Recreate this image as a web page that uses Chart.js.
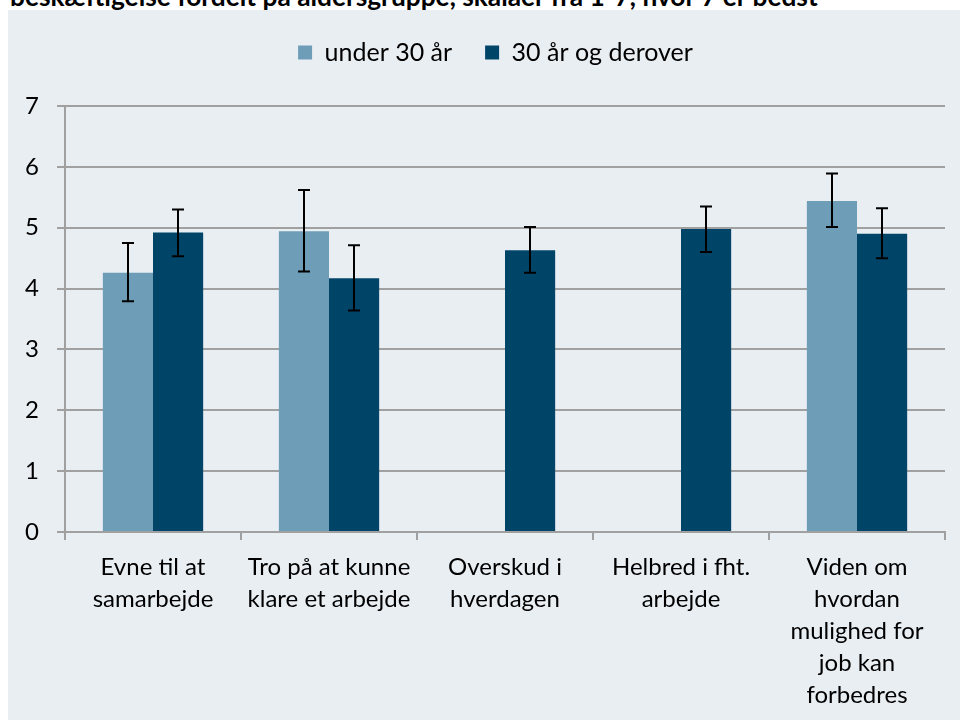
<!DOCTYPE html>
<html>
<head>
<meta charset="utf-8">
<script src="https://cdn.jsdelivr.net/npm/chart.js@4"></script>
<style>
  body { margin: 0; background: #ffffff; width: 960px; height: 720px; overflow: hidden; position: relative; }
  .title {
    position: absolute; left: 10px; top: -20px; white-space: nowrap;
    font-family: Lato, "Open Sans", sans-serif; font-weight: bold; font-size: 26.3px; color: #000;
  }
  .panel { position: absolute; left: 8px; top: 10px; width: 952px; height: 710px; background: #E9EEF3; }
  .panel canvas { display: block; }
</style>
</head>
<body>
<div class="title">beskæftigelse fordelt på aldersgruppe, skalaer fra 1-7, hvor 7 er bedst</div>
<div class="panel"><canvas id="chart" width="952" height="710"></canvas></div>
<script>
const categories = [
  ["Evne til at", "samarbejde"],
  ["Tro på at kunne", "klare et arbejde"],
  ["Overskud i", "hverdagen"],
  ["Helbred i fht.", "arbejde"],
  ["Viden om", "hvordan", "mulighed for", "job kan", "forbedres"]
];
const seriesNames = ["under 30 år", "30 år og derover"];
const under30 = [4.26, 4.94, null, null, 5.44];
const under30Low = [3.79, 4.28, null, null, 5.01];
const under30High = [4.75, 5.62, null, null, 5.89];
const over30 = [4.92, 4.17, 4.63, 4.98, 4.90];
const over30Low = [4.53, 3.64, 4.26, 4.60, 4.50];
const over30High = [5.30, 4.71, 5.01, 5.35, 5.32];
const yTicks = [0, 1, 2, 3, 4, 5, 6, 7];

const FONT = "Lato, 'Open Sans', sans-serif";

// draws the error bars from the low/high arrays
const errorBars = {
  id: "errorBars",
  afterDatasetsDraw(chart) {
    const ctx = chart.ctx;
    const y = chart.scales.y;
    const ranges = [[under30Low, under30High], [over30Low, over30High]];
    ctx.save();
    ctx.strokeStyle = "#000";
    ctx.lineWidth = 2;
    ranges.forEach(([lo, hi], di) => {
      chart.getDatasetMeta(di).data.forEach((bar, i) => {
        if (lo[i] == null) return;
        const x = Math.round(bar.x);
        const y1 = y.getPixelForValue(lo[i]);
        const y2 = y.getPixelForValue(hi[i]);
        ctx.beginPath();
        ctx.moveTo(x, y1); ctx.lineTo(x, y2);
        ctx.moveTo(x - 6, y1); ctx.lineTo(x + 6, y1);
        ctx.moveTo(x - 6, y2); ctx.lineTo(x + 6, y2);
        ctx.stroke();
      });
    });
    ctx.restore();
  }
};

// legend: fixed height, nudged up and to the right like the original
const legendPlace = {
  id: "legendPlace",
  beforeInit(chart) {
    const fit = chart.legend.fit;
    chart.legend.fit = function () {
      fit.bind(chart.legend)();
      this.height = 96;
    };
  },
  afterLayout(chart) {
    const lg = chart.legend;
    lg.top -= 3; lg.bottom -= 3;
    lg.left += 19; lg.right += 19;
  }
};

new Chart(document.getElementById("chart"), {
  type: "bar",
  data: {
    labels: categories,
    datasets: [
      { label: seriesNames[0], data: under30, backgroundColor: "#6E9DB8" },
      { label: seriesNames[1], data: over30, backgroundColor: "#004468" }
    ]
  },
  options: {
    responsive: false,
    animation: false,
    layout: { padding: { top: 0, left: 0, right: 15, bottom: 0 } },
    datasets: { bar: { categoryPercentage: 0.57, barPercentage: 1 } },
    plugins: {
      legend: {
        position: "top",
        labels: {
          color: "#000",
          boxWidth: 14, boxHeight: 14, padding: 33,
          font: { family: FONT, size: 25 }
        }
      },
      tooltip: { enabled: false }
    },
    scales: {
      x: {
        afterFit(scale) { scale.height = 188; },
        grid: { offset: true, drawOnChartArea: false, drawTicks: true, tickLength: 8, color: "#A0A0A0", lineWidth: 2 },
        border: { display: true, color: "#A0A0A0", width: 2 },
        ticks: { color: "#000", padding: 11, maxRotation: 0, autoSkip: false, font: { family: FONT, size: 24, lineHeight: 1.34 } }
      },
      y: {
        min: 0, max: 7,
        afterBuildTicks(scale) { scale.ticks = yTicks.map(v => ({ value: v })); },
        afterFit(scale) { scale.width = 57; },
        grid: { color: "#A0A0A0", lineWidth: 2, tickLength: 8 },
        border: { display: true, color: "#A0A0A0", width: 2 },
        ticks: { color: "#000", padding: 18, font: { family: FONT, size: 24 } }
      }
    }
  },
  plugins: [errorBars, legendPlace]
});
</script>
</body>
</html>
